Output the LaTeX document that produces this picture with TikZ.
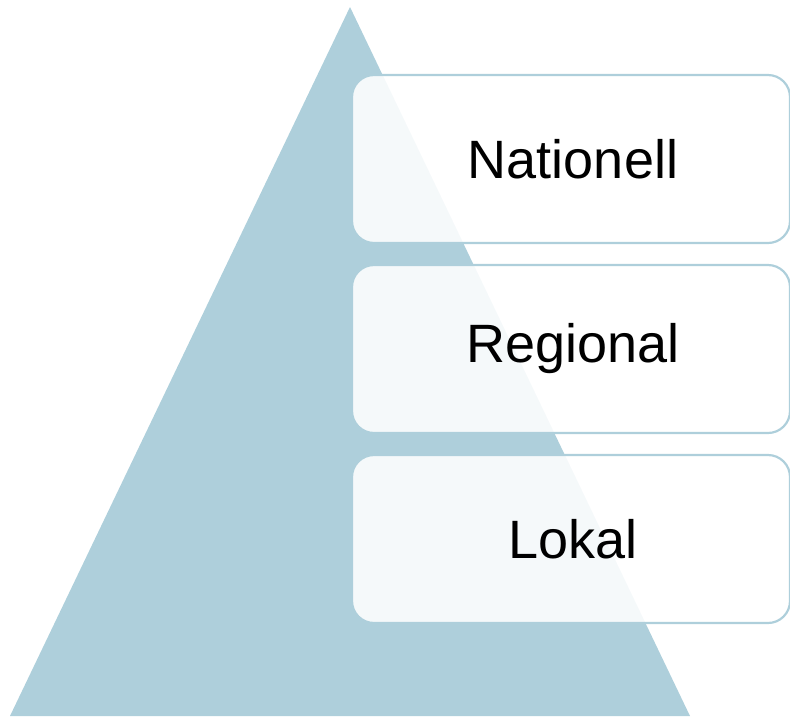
\documentclass[tikz,border=0pt]{standalone}
\usepackage{fontspec}
\setmainfont{Liberation Sans}
\definecolor{tri}{HTML}{AECFDB}
\begin{document}
\begin{tikzpicture}[x=1pt,y=-1pt,
  level/.style={draw=tri, line width=2.2pt, fill=white, fill opacity=0.88, text opacity=1,
    rounded corners=22pt, minimum width=438pt, minimum height=168pt, inner sep=0pt,
    font=\fontsize{54}{64}\selectfont}]
\useasboundingbox (0,0) rectangle (790,716);
\fill[tri] (350,7) coordinate (apex) -- (690,716) -- (10,716) -- cycle;
\node[level] (nat) at (571,159) {\hspace*{4pt}Nationell};
\node[level] (reg) at (571,349) {\hspace*{4pt}Regional};
\node[level] (lok) at (571,539) {\hspace*{4pt}Lokal};
\end{tikzpicture}
\end{document}
